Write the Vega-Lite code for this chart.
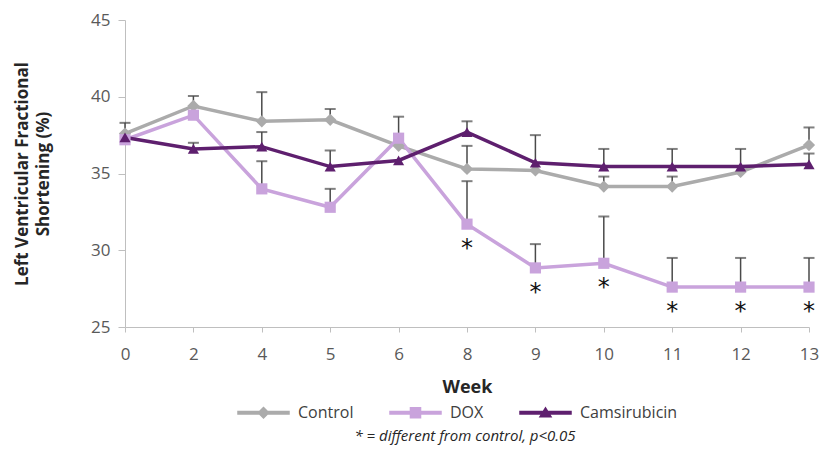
{
  "$schema": "https://vega.github.io/schema/vega-lite/v6.json",
  "width": 684,
  "height": 307,
  "autosize": {"type": "none"},
  "padding": {"left": 125, "top": 20, "right": 14, "bottom": 128},
  "background": "white",
  "config": {
    "view": {"stroke": null},
    "font": "Open Sans",
    "axis": {"grid": false, "domainColor": "#BFBFBF", "tickColor": "#BFBFBF", "labelColor": "#595959", "labelFont": "Open Sans", "titleFont": "Open Sans", "titleColor": "#262626", "titleFontWeight": "bold"}
  },
  "data": {
    "values": [
      {"week": 0, "series": "Control", "value": 37.6, "upper": 38.3},
      {"week": 2, "series": "Control", "value": 39.4, "upper": 40.05},
      {"week": 4, "series": "Control", "value": 38.4, "upper": 40.3},
      {"week": 5, "series": "Control", "value": 38.5, "upper": 39.2},
      {"week": 6, "series": "Control", "value": 36.8, "upper": 38.7},
      {"week": 8, "series": "Control", "value": 35.3, "upper": 36.8},
      {"week": 9, "series": "Control", "value": 35.2, "upper": null},
      {"week": 10, "series": "Control", "value": 34.15, "upper": 34.8},
      {"week": 11, "series": "Control", "value": 34.15, "upper": 34.8},
      {"week": 12, "series": "Control", "value": 35.1, "upper": null},
      {"week": 13, "series": "Control", "value": 36.85, "upper": 38.0},
      {"week": 0, "series": "DOX", "value": 37.2, "upper": null},
      {"week": 2, "series": "DOX", "value": 38.8, "upper": null},
      {"week": 4, "series": "DOX", "value": 34.0, "upper": 35.8},
      {"week": 5, "series": "DOX", "value": 32.8, "upper": 34.0},
      {"week": 6, "series": "DOX", "value": 37.3, "upper": null},
      {"week": 8, "series": "DOX", "value": 31.7, "upper": 34.5, "sig": "*"},
      {"week": 9, "series": "DOX", "value": 28.85, "upper": 30.4, "sig": "*"},
      {"week": 10, "series": "DOX", "value": 29.15, "upper": 32.2, "sig": "*"},
      {"week": 11, "series": "DOX", "value": 27.6, "upper": 29.5, "sig": "*"},
      {"week": 12, "series": "DOX", "value": 27.6, "upper": 29.5, "sig": "*"},
      {"week": 13, "series": "DOX", "value": 27.6, "upper": 29.5, "sig": "*"},
      {"week": 0, "series": "Camsirubicin", "value": 37.35, "upper": null},
      {"week": 2, "series": "Camsirubicin", "value": 36.6, "upper": 37.0},
      {"week": 4, "series": "Camsirubicin", "value": 36.75, "upper": 37.7},
      {"week": 5, "series": "Camsirubicin", "value": 35.45, "upper": 36.5},
      {"week": 6, "series": "Camsirubicin", "value": 35.85, "upper": null},
      {"week": 8, "series": "Camsirubicin", "value": 37.7, "upper": 38.4},
      {"week": 9, "series": "Camsirubicin", "value": 35.7, "upper": 37.5},
      {"week": 10, "series": "Camsirubicin", "value": 35.45, "upper": 36.6},
      {"week": 11, "series": "Camsirubicin", "value": 35.45, "upper": 36.6},
      {"week": 12, "series": "Camsirubicin", "value": 35.45, "upper": 36.6},
      {"week": 13, "series": "Camsirubicin", "value": 35.6, "upper": 36.3}
    ]
  },
  "encoding": {
    "x": {
      "field": "week", "type": "ordinal",
      "scale": {"type": "point", "padding": 0, "domain": [0, 2, 4, 5, 6, 8, 9, 10, 11, 12, 13]},
      "axis": {"title": "Week", "labelAngle": 0, "labelFontSize": 17, "tickSize": 5, "labelPadding": 14, "titleFontSize": 18, "titlePadding": 16}
    },
    "y": {
      "field": "value", "type": "quantitative",
      "scale": {"domain": [25, 45], "nice": false, "zero": false},
      "axis": {"title": ["Left Ventricular Fractional", "Shortening (%)"], "values": [25, 30, 35, 40, 45], "labelFontSize": 17, "tickSize": 7, "labelPadding": 8, "titleFontSize": 17, "titlePadding": 38, "titleLineHeight": 21}
    }
  },
  "layer": [
    {
      "mark": {"type": "line", "strokeWidth": 3.5},
      "encoding": {
        "color": {"field": "series", "type": "nominal",
          "scale": {"domain": ["Control", "DOX", "Camsirubicin"], "range": ["#ABABAB", "#C9A3DC", "#5E1F6E"]}}
      }
    },
    {
      "transform": [{"filter": "isValid(datum.upper)"}],
      "mark": {"type": "rule", "color": "#4A4A4A", "strokeWidth": 1.5},
      "encoding": {"y2": {"field": "upper"}}
    },
    {
      "transform": [{"filter": "isValid(datum.upper)"}],
      "mark": {"type": "tick", "color": "#4A4A4A", "thickness": 2, "size": 11, "orient": "horizontal"},
      "encoding": {"y": {"field": "upper", "type": "quantitative"}}
    },
    {
      "transform": [{"filter": "datum.series === 'Control'"}],
      "mark": {"type": "point", "shape": "diamond", "filled": true, "size": 150, "opacity": 1},
      "encoding": {"color": {"field": "series", "type": "nominal"}}
    },
    {
      "transform": [{"filter": "datum.series === 'DOX'"}],
      "mark": {"type": "point", "shape": "square", "filled": true, "size": 125, "opacity": 1},
      "encoding": {"color": {"field": "series", "type": "nominal"}}
    },
    {
      "transform": [{"filter": "datum.series === 'Camsirubicin'"}],
      "mark": {"type": "point", "shape": "triangle-up", "filled": true, "size": 125, "opacity": 1},
      "encoding": {"color": {"field": "series", "type": "nominal"}}
    },
    {
      "transform": [{"filter": "datum.sig === '*'"}],
      "mark": {"type": "text", "fontSize": 24, "color": "#111111", "dy": 25, "baseline": "middle", "font": "DejaVu Sans"},
      "encoding": {"text": {"field": "sig"}}
    },
    {
      "transform": [{"filter": "false"}],
      "mark": {"type": "point", "filled": true, "opacity": 1},
      "encoding": {
        "color": {"field": "series", "type": "nominal",
          "legend": {"title": "* = different from control, p<0.05", "orient": "none", "legendX": 128, "legendY": 382, "direction": "horizontal",
            "symbolSize": 441, "symbolStrokeWidth": 0, "labelOffset": 24, "columnPadding": 35, "labelFontSize": 16, "labelFont": "Open Sans", "labelColor": "#404040",
            "titleOrient": "bottom", "titleAnchor": "middle", "titleFontStyle": "italic", "titleFontWeight": "normal", "titleFontSize": 15, "titleFont": "Open Sans", "titleColor": "#262626", "titlePadding": 8, "titleLimit": 600, "padding": 0}},
        "shape": {"field": "series", "type": "nominal",
          "scale": {"domain": ["Control", "DOX", "Camsirubicin"], "range": [
            "M-2.5,-0.19H2.5V0.19H-2.5Z M0,-0.6L0.6,0L0,0.6L-0.6,0Z",
            "M-2.5,-0.19H2.5V0.19H-2.5Z M-0.55,-0.55H0.55V0.55H-0.55Z",
            "M-2.5,-0.19H2.5V0.19H-2.5Z M0,-0.6L0.65,0.45H-0.65Z"]},
          "legend": {"title": "* = different from control, p<0.05", "orient": "none", "legendX": 128, "legendY": 382, "direction": "horizontal",
            "symbolSize": 441, "symbolStrokeWidth": 0, "labelOffset": 24, "columnPadding": 35, "labelFontSize": 16, "labelFont": "Open Sans", "labelColor": "#404040",
            "titleOrient": "bottom", "titleAnchor": "middle", "titleFontStyle": "italic", "titleFontWeight": "normal", "titleFontSize": 15, "titleFont": "Open Sans", "titleColor": "#262626", "titlePadding": 8, "titleLimit": 600, "padding": 0}}
      }
    }
  ]
}
